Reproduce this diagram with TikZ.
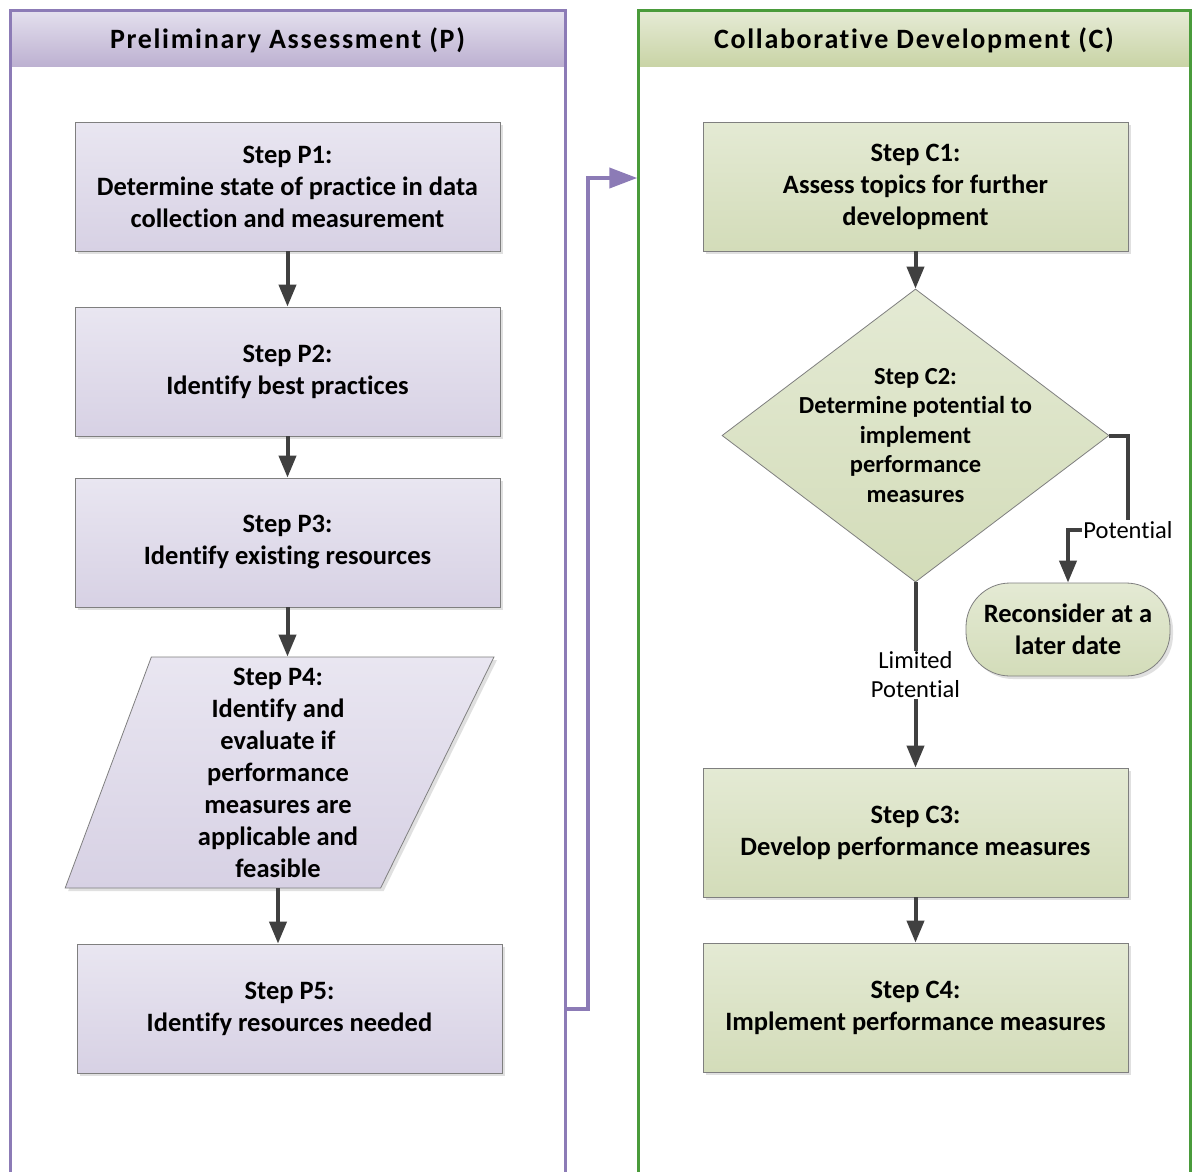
\documentclass[tikz,border=0pt]{standalone}
\usepackage{fontspec}
\setmainfont{Carlito}[Ligatures={NoCommon,NoContextual}]
\newfontfamily\lanefont[LetterSpace=6,Ligatures={NoCommon,NoContextual}]{Carlito}
\usetikzlibrary{arrows.meta,calc,positioning,shapes.geometric,shadows}

\definecolor{pBorder}{HTML}{8C7BB6}
\definecolor{cBorder}{HTML}{4A9B3B}
\definecolor{pHeadTop}{HTML}{E4E0EE}
\definecolor{pHeadBot}{HTML}{BDB1D1}
\definecolor{cHeadTop}{HTML}{E6EBD6}
\definecolor{cHeadBot}{HTML}{C9D4A6}
\definecolor{pBoxTop}{HTML}{E9E6F1}
\definecolor{pBoxBot}{HTML}{D7D1E4}
\definecolor{cBoxTop}{HTML}{E4EAD4}
\definecolor{cBoxBot}{HTML}{D3DCB9}
\definecolor{boxLine}{HTML}{7F7F7F}
\definecolor{flowGray}{HTML}{404040}

\newcommand{\boxfont}{\fontsize{26.5}{32}\selectfont\bfseries}
\newcommand{\decfont}{\fontsize{24.5}{29.5}\selectfont\bfseries}
\newcommand{\lblfont}{\fontsize{24.5}{29}\selectfont}
\newcommand{\headfont}{\lanefont\fontsize{28}{34}\selectfont\bfseries}

\tikzset{%
	lanehead/.style = {rectangle, minimum width=553pt, minimum height=56pt, inner sep=0pt, text depth=0pt, font=\headfont},
	headP/.style    = {lanehead, top color=pHeadTop, bottom color=pHeadBot},
	headC/.style    = {lanehead, top color=cHeadTop, bottom color=cHeadBot},
	laneP/.style    = {draw=pBorder, line width=3pt},
	laneC/.style    = {draw=cBorder, line width=3pt},
	boxshadow/.style= {drop shadow={shadow xshift=3pt, shadow yshift=-3pt, opacity=0.3, fill=black!40}},
	stepbox/.style  = {draw=boxLine, line width=0.8pt, rectangle, minimum width=425pt, minimum height=129pt, align=center, font=\boxfont, boxshadow},
	stepP/.style    = {stepbox, top color=pBoxTop, bottom color=pBoxBot},
	stepC/.style    = {stepbox, top color=cBoxTop, bottom color=cBoxBot},
	inout/.style    = {draw=boxLine, line width=0.8pt, trapezium, trapezium left angle=69.4, trapezium right angle=116.3, trapezium stretches=true, minimum width=429pt, minimum height=231pt, inner sep=2pt, top color=pBoxTop, bottom color=pBoxBot, boxshadow},
	decision/.style = {draw=boxLine, line width=0.8pt, diamond, minimum width=387pt, minimum height=293pt, inner sep=2pt, top color=cBoxTop, bottom color=cBoxBot},
	startstop/.style= {draw=boxLine, line width=0.8pt, rectangle, rounded corners=44pt, minimum width=204pt, minimum height=93pt, align=center, font=\boxfont, top color=cBoxTop, bottom color=cBoxBot, boxshadow},
	steptext/.style = {align=center, inner sep=0pt},
	flow/.style     = {draw=flowGray, line width=4pt, -{Triangle[length=22pt,width=17pt]}},
	crossflow/.style= {draw=pBorder, line width=4pt, -{Triangle[length=28pt,width=20pt]}},
	flowlabel/.style= {fill=white, inner sep=1pt, align=center, font=\lblfont},
}

\begin{document}
\begin{tikzpicture}[x=1pt,y=-1pt]
	\useasboundingbox[fill=white] (0,0) rectangle (1192,1171);

	% lanes
	\node [headP] (hp) at (287.5,38) {Preliminary Assessment (P)};
	\node [headC] (hc) at (914,38) {Collaborative Development (C)};
	\draw [laneP] (10,1185) |- (565,10) -- (565,1185);
	\draw [laneC] (638,1185) |- (1190,10) -- (1190,1185);

	\node [stepP] (p1) at (287.5,186.5) {Step P1:\\Determine state of practice in data\\collection and measurement};
	\node [stepP] (p2) at (287.5,371.5) {Step P2:\\Identify best practices};
	\node [stepP] (p3) at (287.5,542.5) {Step P3:\\Identify existing resources};
	\node [inout] (p4) at (266,772.5) {};
	\node [steptext,font=\boxfont] (p4txt) at (278,773) {Step P4:\\Identify and\\evaluate if\\performance\\measures are\\applicable and\\feasible};
	\node [stepP] (p5) at (289.5,1008.5) {Step P5:\\Identify resources needed};

	\node [stepC] (c1) at (915.5,186.5) {Step C1:\\Assess topics for further\\development};
	\node [decision] (c2) at (915.5,435.5) {};
	\node [steptext,font=\decfont] (c2txt) at (c2.center) {Step C2:\\Determine potential to\\implement\\performance\\measures};
	\node [startstop] (rc) at (1068,629.5) {Reconsider at a\\later date};
	\node [stepC] (c3) at (915.5,832.5) {Step C3:\\Develop performance measures};
	\node [stepC] (c4) at (915.5,1007.5) {Step C4:\\Implement performance measures};

	\coordinate (pbend) at (1128,530);
	\coordinate (jog) at (588,178);

	\draw [flow] (p1) -- (p2);
	\draw [flow] (p2) -- (p3);
	\draw [flow] (p3.south) -- (p3.south |- p4.north);
	\draw [flow] (p4txt.south |- p4.south) -- (p4txt.south |- p5.north);
	\draw [crossflow] (p5.east -| hp.east) -| (jog) -- (jog -| hc.west);

	\draw [flow] (c1) -- (c2);
	\draw [flow] (c2.east) -| (pbend) -| (rc.north);
	\node [flowlabel] (potlbl) at (pbend) {Potential};
	\draw [flow] (c2.south) -- node [flowlabel] (limlbl) {Limited\\Potential} (c3.north);
	\draw [flow] (c3) -- (c4);
\end{tikzpicture}
\end{document}
